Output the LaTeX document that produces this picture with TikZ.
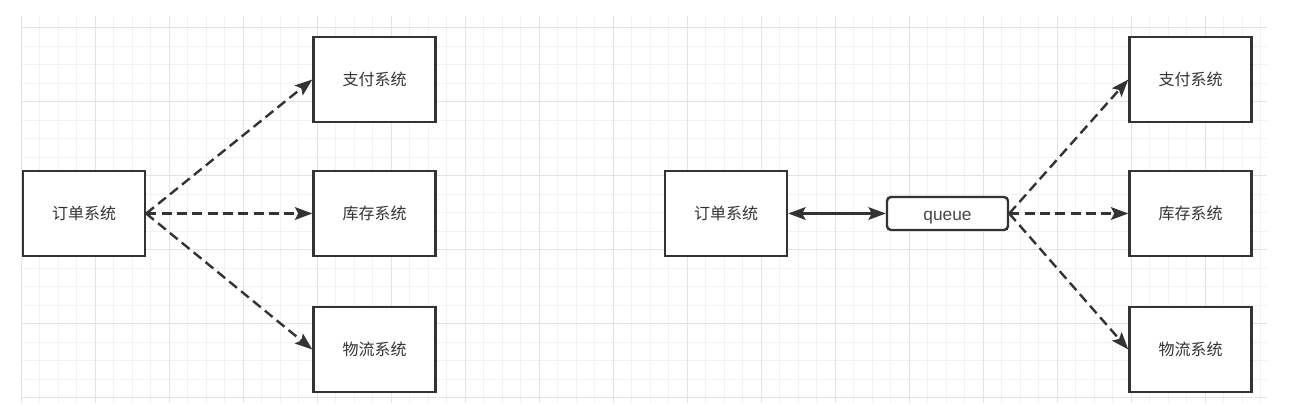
\documentclass[tikz,border=0pt]{standalone}
\usepackage{fontspec}
\newfontfamily\cjk{Noto Sans CJK SC}
\newfontfamily\lat{Liberation Sans}
\usetikzlibrary{arrows.meta}
\definecolor{inkgray}{HTML}{333333}
\definecolor{gridlight}{HTML}{F2F2F2}
\definecolor{gridmid}{HTML}{E3E3E3}
\tikzset{
    sysbox/.style={
        draw=inkgray, line width=1.8pt, fill=white,
        minimum width=91.5pt, minimum height=63.75pt, inner sep=0pt,
        text=inkgray, font=\cjk\fontsize{12}{14}\selectfont
    },
    queuebox/.style={
        draw=inkgray, line width=1.8pt, fill=white, rounded corners=3pt,
        minimum width=90.75pt, minimum height=24.75pt, inner sep=0pt,
        text height=10.8pt, text depth=0pt,
        text=inkgray!90, font=\lat\fontsize{13}{15}\selectfont
    },
    flow/.style={
        draw=inkgray, line width=1.8pt, dash pattern=on 7.5pt off 4pt,
        -{Stealth[length=13pt,width=9.5pt,inset=2.5pt]}
    },
    link/.style={
        draw=inkgray, line width=1.8pt,
        {Stealth[length=13pt,width=9.5pt,inset=2.5pt]}-{Stealth[length=13pt,width=9.5pt,inset=2.5pt]}
    },
    gridminor/.style={draw=gridlight, line width=0.75pt},
    gridmajor/.style={draw=gridmid, line width=0.75pt}
}

\begin{document}
\begin{tikzpicture}[x=0.75pt,y=-0.75pt]
    \useasboundingbox (0,0) rectangle (1303,405);
    % background grid
    \begin{scope}
        \clip (21,16) rectangle (1267,403);
        \foreach \i in {0,...,68}
            \draw[gridminor] ({21+18.5*\i},16) -- ({21+18.5*\i},403);
        \foreach \j in {0,...,20}
            \draw[gridminor] (21,{27.7+18.5*\j}) -- (1267,{27.7+18.5*\j});
        \foreach \i in {0,...,17}
            \draw[gridmajor] ({21+74*\i},16) -- ({21+74*\i},403);
        \foreach \j in {0,...,5}
            \draw[gridmajor] (21,{27.7+74*\j}) -- (1267,{27.7+74*\j});
    \end{scope}

    % direct calls
    \node[sysbox] (orderL) at (84,213.5) {订单系统};
    \node[sysbox] (payL) at (374.5,79.5) {支付系统};
    \node[sysbox] (stockL) at (374.5,213.5) {库存系统};
    \node[sysbox] (shipL) at (374.5,349.5) {物流系统};
    \draw[flow] (orderL.east) -- (payL.west);
    \draw[flow] (orderL.east) -- (stockL.west);
    \draw[flow] (orderL.east) -- (shipL.west);

    % through the queue
    \node[sysbox] (orderR) at (726,213.5) {订单系统};
    \node[queuebox] (mq) at (947.5,213.5) {queue};
    \node[sysbox] (payR) at (1190.5,79.5) {支付系统};
    \node[sysbox] (stockR) at (1190.5,213.5) {库存系统};
    \node[sysbox] (shipR) at (1190.5,349.5) {物流系统};
    \draw[link] (orderR.east) -- (mq.west);
    \draw[flow] (mq.east) -- (payR.west);
    \draw[flow] (mq.east) -- (stockR.west);
    \draw[flow] (mq.east) -- (shipR.west);
\end{tikzpicture}
\end{document}
